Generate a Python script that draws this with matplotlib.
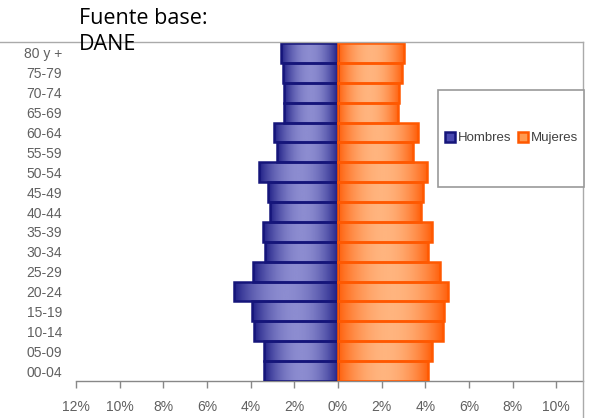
import numpy as np
import matplotlib.pyplot as plt
from matplotlib.colors import LinearSegmentedColormap
from matplotlib.lines import Line2D
from matplotlib.patches import Rectangle

# Datos (porcentaje de poblacion por grupo de edad, de abajo hacia arriba)
edades = ["00-04", "05-09", "10-14", "15-19", "20-24", "25-29", "30-34", "35-39",
          "40-44", "45-49", "50-54", "55-59", "60-64", "65-69", "70-74", "75-79", "80 y +"]
hombres = [3.4, 3.4, 3.85, 3.95, 4.75, 3.9, 3.35, 3.45, 3.1, 3.2, 3.6, 2.8, 2.95, 2.45, 2.45, 2.5, 2.6]
mujeres = [4.15, 4.3, 4.8, 4.85, 5.05, 4.7, 4.15, 4.3, 3.8, 3.9, 4.1, 3.45, 3.65, 2.75, 2.8, 2.95, 3.05]
xticks = [-12, -10, -8, -6, -4, -2, 0, 2, 4, 6, 8, 10]

plt.rcParams['font.family'] = ['Liberation Sans', 'DejaVu Sans']

fig = plt.figure(figsize=(6.02, 4.18), dpi=100)
ax = fig.add_axes([76 / 602, 1 - 381 / 418, (583 - 76) / 602, (381 - 43) / 418])

azul = LinearSegmentedColormap.from_list("azul", ["#15157f", "#8c8cd0"])
naranja = LinearSegmentedColormap.from_list("naranja", ["#ff5800", "#ffb47e"])
grad = np.sin(np.linspace(0.05, np.pi - 0.05, 60)) ** 0.8
grad = grad.reshape(1, -1)

y = np.arange(len(edades))
bh = ax.barh(y, [-v for v in hombres], height=1.0, facecolor="none",
             edgecolor="#15157a", linewidth=1.8, zorder=3)
bm = ax.barh(y, mujeres, height=1.0, facecolor="none",
             edgecolor="#ff5800", linewidth=1.8, zorder=3)

for bars, cmap in [(bh, azul), (bm, naranja)]:
    for b in bars:
        x0, y0 = b.get_xy()
        w, h = b.get_width(), b.get_height()
        im = ax.imshow(grad, extent=[x0, x0 + w, y0, y0 + h], aspect="auto",
                       cmap=cmap, vmin=0, vmax=1, zorder=2, interpolation="bilinear")
        im.set_clip_path(b)

ax.set_xlim(-12, 11.23)
ax.set_ylim(-0.5, len(edades) - 0.5)
ax.set_aspect("auto")

ax.set_yticks(y)
ax.set_yticklabels(edades)
ax.set_xticks(xticks)
ax.set_xticklabels([f"{abs(t)}%" for t in xticks])
ax.tick_params(axis="y", length=0, pad=10, labelsize=10, labelcolor="#606060")
ax.tick_params(axis="x", length=5, width=1, color="#888888", direction="out",
               pad=9, labelsize=10, labelcolor="#606060")

for s in ["top", "right", "left"]:
    ax.spines[s].set_visible(False)
ax.spines["bottom"].set_color("#888888")
ax.spines["bottom"].set_linewidth(1)

# bordes del area del grafico
fig.add_artist(Line2D([0, 583 / 602], [1 - 42 / 418, 1 - 42 / 418], color="#aaaaaa", lw=1))
fig.add_artist(Line2D([583 / 602, 583 / 602], [1 - 42 / 418, 0], color="#aaaaaa", lw=1))

# leyenda
fig.add_artist(Rectangle((438 / 602, 1 - 187 / 418), (584 - 438) / 602, (187 - 90) / 418,
                         facecolor="white", edgecolor="#999999", lw=1.2, zorder=5))
handles = [Line2D([], [], marker="s", ls="none", markersize=7, markerfacecolor="#4a4ab0",
                  markeredgecolor="#15157a", markeredgewidth=1.8),
           Line2D([], [], marker="s", ls="none", markersize=7, markerfacecolor="#ff9a50",
                  markeredgecolor="#ff5800", markeredgewidth=1.8)]
leg = fig.legend(handles, ["Hombres", "Mujeres"], ncol=2, frameon=False,
                 loc="center", bbox_to_anchor=(512 / 602, 1 - 138 / 418),
                 fontsize=9.5, handlelength=0.7, handletextpad=0.25, columnspacing=0.5,
                 labelcolor="#404040")
leg.set_zorder(6)

fuente = ["Open Sans", "DejaVu Sans"]
fig.text(79 / 602, 1 - 18 / 418, "Fuente base:", fontsize=15.5, family=fuente,
         color="black", va="center", ha="left", zorder=7)
fig.text(79 / 602, 1 - 44 / 418, "DANE", fontsize=15.5, family=fuente,
         color="black", va="center", ha="left", zorder=7)

fig.savefig("out.png", dpi=100)
